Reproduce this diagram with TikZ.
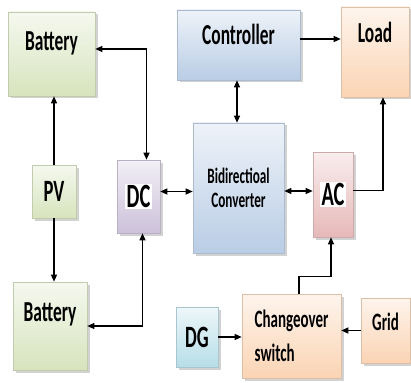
\documentclass[tikz,border=0pt]{standalone}
\usepackage{fontspec}
\setmainfont{Carlito}[FakeStretch=0.6]
\usepackage{tikz}
\usetikzlibrary{arrows.meta, positioning, shadows}
\tikzset{>={Triangle[length=7pt,width=6pt]}}
\usepackage{xcolor}
\definecolor{boxgreen}{HTML}{D7E4BD}
\definecolor{boxblue}{HTML}{B9CDE5}
\definecolor{boxorange}{HTML}{FBD4B4}
\definecolor{boxlilac}{HTML}{CCC1DA}
\definecolor{boxpink}{HTML}{E6B9B8}
\definecolor{boxcyan}{HTML}{B7DEE8}
\setlength{\fboxsep}{1.5pt}
\tikzset{
	blk/.style={rectangle, inner sep=0pt, line width=0.6pt,
		font=\bfseries\fontsize{29}{31}\selectfont,
		drop shadow={shadow xshift=2.5pt, shadow yshift=-2.5pt, fill=black!35}},
	fillbox/.style={blk, draw=#1!75!gray, top color=#1!25, bottom color=#1},
	textup/.style={text height=18pt, text depth=#1},
	link/.style={line width=1.2pt},
}

\begin{document}
\begin{tikzpicture}[x=1pt,y=-1pt]
			\useasboundingbox (0,0) rectangle (411,382);
			% sources and storage
			\node[fillbox=boxgreen, minimum width=87pt, minimum height=84pt, textup=24pt] (bat1) at (51.5,54) {Battery};
			\node[fillbox=boxgreen, minimum width=44pt, minimum height=53pt, font=\bfseries\fontsize{31}{33}\selectfont] (pv) at (54,191.5) {PV};
			\node[fillbox=boxgreen, minimum width=74pt, minimum height=88pt, textup=28pt] (bat2) at (50,326) {Battery};
			% buses and converter
			\node[fillbox=boxlilac, minimum width=43pt, minimum height=73pt, font=\bfseries\fontsize{34}{36}\selectfont] (dc) at (138.5,196.5) {\colorbox{white}{DC}};
			\node[fillbox=boxblue, minimum width=91pt, minimum height=130pt, align=center, font=\bfseries\fontsize{22}{24}\selectfont] (conv) at (238.5,188) {Bidirectioal\\Converter};
			\node[fillbox=boxpink, minimum width=40pt, minimum height=85pt, font=\bfseries\fontsize{34}{36}\selectfont] (ac) at (333,194.5) {\colorbox{white}{AC}};
			\node[fillbox=boxblue, minimum width=123pt, minimum height=70pt, textup=18pt] (ctrl) at (238.5,45) {Controller};
			\node[fillbox=boxorange, minimum width=68pt, minimum height=90pt, textup=36pt] (load) at (375,52) {Load};
			% ac side
			\node[fillbox=boxcyan, minimum width=42pt, minimum height=60pt, font=\bfseries\fontsize{31}{33}\selectfont] (dg) at (197,337) {DG};
			\node[fillbox=boxorange, minimum width=99pt, minimum height=84pt, align=left, font=\bfseries\fontsize{25}{34}\selectfont] (sw) at (291.5,336) {Changeover\\switch};
			\node[fillbox=boxorange, minimum width=49pt, minimum height=65pt, font=\bfseries\fontsize{25}{27}\selectfont, text height=16pt, text depth=16pt] (grid) at (385.5,330.5) {Grid};
			% connections
			\draw[link,->] (pv.north) -- (pv.north |- bat1.south);
			\draw[link,->] (pv.south) -- (pv.south |- bat2.north);
			\draw[link,<->] ([xshift=8pt]dc.north) |- ([yshift=5pt]bat1.east);
			\draw[link,<->] ([xshift=4pt]dc.south) |- (bat2.east);
			\draw[link,<->] ([yshift=5pt]dc.east) -- ([yshift=5pt]dc.east -| conv.west);
			\draw[link,<->] ([yshift=-3pt]conv.east) -- ([yshift=-3pt]conv.east -| ac.west);
			\draw[link,<->] ([xshift=-1.5pt]ctrl.south) -- ([xshift=-1.5pt]conv.north);
			\draw[link,->] ([yshift=6pt]ctrl.east) -- ([yshift=6pt]ctrl.east -| load.west);
			\draw[link,->] ([yshift=4pt]ac.east) -| ([xshift=8pt]load.south);
			\draw[link,->] ([xshift=7.5pt]sw.north) -- ++(0,-17) -| ([xshift=-2pt]ac.south);
			\draw[link,->] (dg.east) -- (dg.east -| sw.west);
			\draw[link,->] (grid.west) -- (grid.west -| sw.east);
		\end{tikzpicture}
\end{document}
